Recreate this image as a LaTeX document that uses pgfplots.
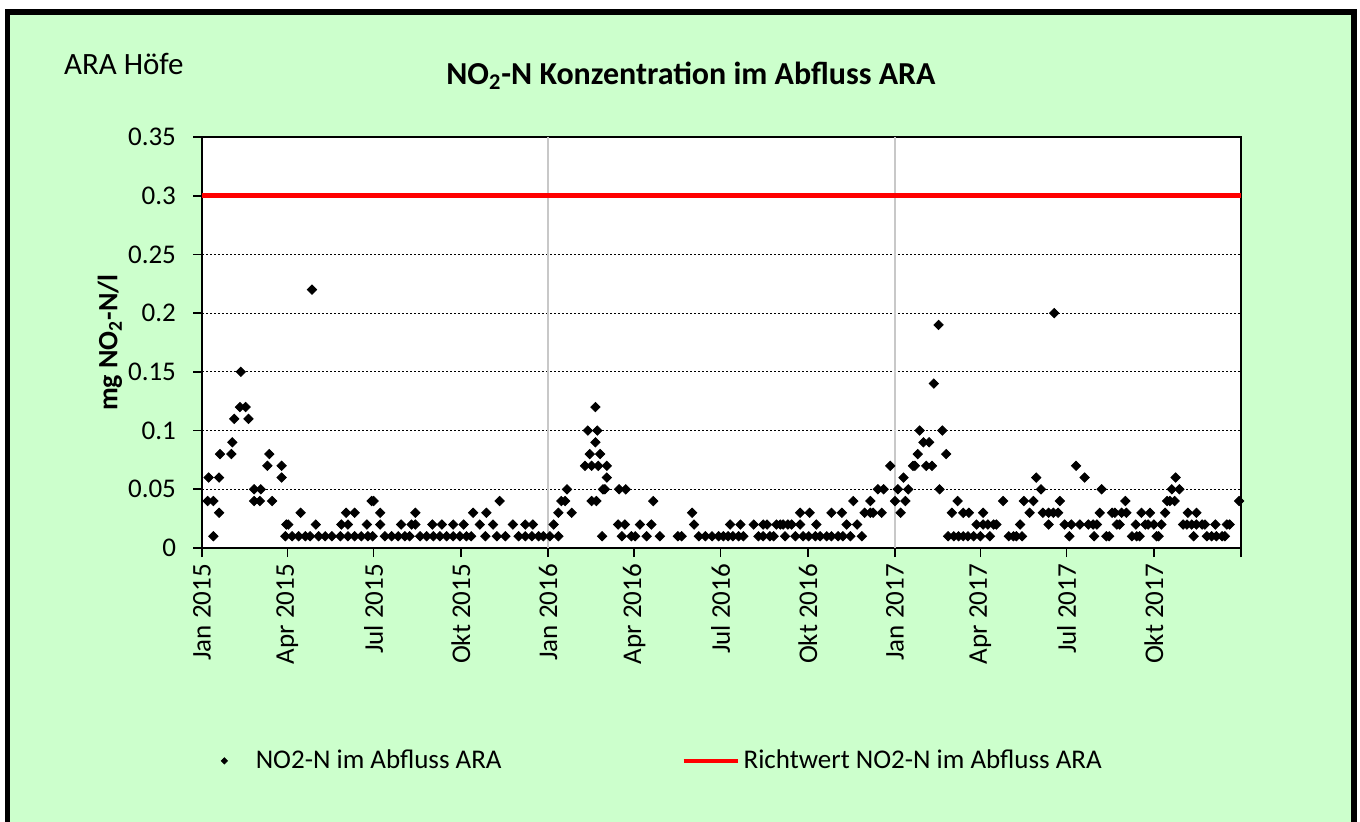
\documentclass[border=0pt]{standalone}
\usepackage{fontspec}
\setmainfont{Carlito}
\usepackage{pgfplots}
\pgfplotsset{compat=1.18}
\usepackage{pgfplotstable}
\definecolor{bggreen}{RGB}{204,255,204}
\definecolor{gridgray}{RGB}{200,200,200}

\pgfplotsset{
  dotlegend/.style={legend image code/.code={\path (0pt,0pt) (27pt,0pt);\draw[mark repeat=2,mark phase=2,##1,mark size=1.1pt] plot coordinates {(0pt,0pt)(13.5pt,0pt)(27pt,0pt)};}},
  linelegend/.style={legend image code/.code={\draw[##1, line width=2pt] (0pt,0pt) -- (27pt,0pt);}},
}

\pgfplotstableread{
day val
6 0.04
7 0.06
12 0.04
12 0.01
18 0.06
18 0.03
19 0.08
31 0.08
32 0.09
34 0.11
40 0.12
41 0.15
46 0.12
49 0.11
55 0.05
55 0.04
61 0.04
62 0.05
69 0.07
71 0.08
74 0.04
84 0.07
84 0.06
88 0.01
89 0.02
91 0.02
95 0.01
102 0.01
104 0.03
109 0.01
114 0.01
116 0.22
120 0.02
123 0.01
130 0.01
137 0.01
146 0.01
147 0.02
152 0.03
154 0.01
154 0.02
161 0.01
161 0.03
168 0.01
174 0.02
175 0.01
179 0.04
180 0.01
181 0.04
188 0.03
188 0.02
193 0.01
200 0.01
207 0.01
210 0.02
214 0.01
219 0.01
221 0.02
225 0.02
225 0.03
230 0.01
237 0.01
243 0.02
244 0.01
251 0.01
253 0.02
258 0.01
265 0.01
265 0.02
272 0.01
276 0.02
279 0.01
284 0.01
286 0.03
293 0.02
299 0.01
300 0.03
307 0.02
311 0.01
314 0.04
320 0.01
328 0.02
334 0.01
341 0.01
341 0.02
348 0.01
349 0.02
355 0.01
360 0.01
367 0.01
371 0.02
376 0.01
376 0.03
379 0.04
383 0.04
385 0.05
390 0.03
404 0.07
407 0.10
409 0.08
411 0.07
411 0.04
415 0.09
415 0.12
416 0.04
417 0.10
418 0.07
420 0.08
422 0.01
423 0.05
425 0.05
427 0.07
427 0.06
439 0.02
440 0.05
443 0.01
446 0.02
447 0.05
453 0.01
457 0.01
462 0.02
469 0.01
474 0.02
476 0.04
483 0.01
502 0.01
506 0.01
517 0.03
519 0.02
524 0.01
531 0.01
538 0.01
545 0.01
550 0.01
555 0.01
557 0.02
560 0.01
566 0.01
568 0.02
571 0.01
582 0.02
587 0.01
592 0.01
592 0.02
596 0.02
599 0.01
603 0.01
606 0.02
610 0.02
613 0.02
615 0.01
618 0.02
622 0.02
626 0.01
631 0.03
631 0.02
634 0.01
640 0.01
641 0.03
647 0.01
648 0.02
652 0.01
659 0.01
664 0.01
664 0.03
671 0.01
675 0.03
676 0.01
680 0.02
684 0.01
687 0.04
691 0.02
696 0.01
699 0.03
705 0.03
705 0.04
708 0.03
713 0.05
717 0.03
719 0.05
726 0.07
731 0.04
734 0.05
737 0.03
740 0.06
742 0.04
745 0.05
750 0.07
752 0.07
755 0.08
757 0.10
761 0.09
764 0.07
767 0.09
770 0.07
772 0.14
777 0.19
778 0.05
781 0.10
785 0.08
787 0.01
791 0.03
793 0.01
797 0.04
798 0.01
803 0.01
803 0.03
808 0.01
809 0.03
814 0.01
817 0.02
821 0.01
824 0.02
824 0.03
829 0.02
831 0.01
835 0.02
838 0.02
845 0.04
851 0.01
856 0.01
859 0.01
863 0.02
865 0.01
867 0.04
873 0.03
877 0.04
880 0.06
885 0.05
887 0.03
893 0.03
893 0.02
898 0.03
899 0.20
903 0.03
905 0.04
910 0.02
915 0.01
917 0.02
922 0.07
926 0.02
931 0.06
935 0.02
940 0.02
941 0.01
944 0.02
947 0.03
949 0.05
954 0.01
957 0.01
960 0.03
963 0.03
965 0.02
968 0.02
970 0.03
974 0.04
975 0.03
981 0.01
985 0.02
986 0.01
989 0.01
991 0.03
995 0.02
998 0.02
1000 0.03
1004 0.02
1007 0.01
1009 0.01
1012 0.02
1016 0.03
1018 0.04
1021 0.04
1023 0.05
1026 0.04
1027 0.06
1031 0.05
1035 0.02
1039 0.02
1040 0.03
1044 0.02
1046 0.01
1049 0.02
1049 0.03
1055 0.02
1058 0.02
1060 0.01
1065 0.01
1069 0.02
1070 0.01
1076 0.01
1079 0.01
1081 0.02
1084 0.02
1094 0.04
}\nodata

\pgfplotstableread{
day val
0 0.3
1096 0.3
}\richtwert

\begin{document}
\begin{tikzpicture}
\useasboundingbox (0pt,0pt) rectangle (680pt,410.5pt);
\begin{scope}[x=0.5pt,y=0.5pt]
\clip (0,0) rectangle (1360,821);
\fill[white] (0,0) rectangle (1360,821);
\fill[bggreen] (7.5,-20) rectangle (1354,809);
\draw[black, line width=2.75pt] (7.5,-20) rectangle (1354,809);
\end{scope}
\node[anchor=base west, font=\fontsize{15.5}{18}\selectfont] at (28.5pt,373pt) {ARA Höfe};
\begin{axis}[
  at={(101pt,136.5pt)}, anchor=south west,
  scale only axis, width=519.5pt, height=205.5pt,
  xmin=0, xmax=1096, ymin=0, ymax=0.35,
  axis background/.style={fill=white},
  axis line style={black, line width=0.9pt},
  xtick={0,90,181,273,365,456,547,639,731,821,912,1004,1096},
  xticklabels={Jan 2015,Apr 2015,Jul 2015,Okt 2015,Jan 2016,Apr 2016,Jul 2016,Okt 2016,Jan 2017,Apr 2017,Jul 2017,Okt 2017,{}},
  ytick={0,0.05,0.1,0.15,0.2,0.25,0.3,0.35},
  yticklabels={0,0.05,0.1,0.15,0.2,0.25,0.3,0.35},
  /pgf/number format/assume math mode=true,
  tick label style={font=\fontsize{13.5}{16}\selectfont},
  xticklabel style={rotate=90, anchor=east},
  yticklabel style={xshift=-5pt},
  tick align=outside, major tick length=4.5pt,
  tick style={black, line width=0.8pt},
  xtick pos=lower, ytick pos=left,
  ymajorgrids,
  major y grid style={black, dash pattern=on 1.2pt off 0.8pt, line width=0.5pt},
  extra x ticks={365,731},
  extra x tick labels={},
  extra x tick style={xmajorgrids=true, major x grid style={solid, gridgray, line width=0.9pt}, major tick length=0pt},
  ylabel={mg NO\textsubscript{2}-N/l},
  every axis y label/.style={at={(axis description cs:-0.0885,0.5)}, rotate=90, anchor=center, font=\bfseries\fontsize{14}{17}\selectfont},
  title={NO\textsubscript{2}-N Konzentration im Abfluss ARA},
  title style={at={(axis description cs:0.4706,1.119)}, anchor=center, font=\bfseries\fontsize{16}{19}\selectfont},
  legend columns=2,
  legend cell align=left,
  legend style={draw=none, fill=none, at={(axis description cs:-0.011,-0.518)}, anchor=west,
    font=\fontsize{13.5}{16}\selectfont,
    /tikz/every even column/.append style={column sep=88pt}},
]
\addplot[only marks, mark=square*, mark size=1.65pt, mark options={rotate=45, fill=black, draw=black}, dotlegend]
  table[x=day,y=val]{\nodata};
\addlegendentry{NO2-N im Abfluss ARA}
\addplot[red, line width=2.5pt, no marks, linelegend]
  table[x=day,y=val]{\richtwert};
\addlegendentry{Richtwert NO2-N im Abfluss ARA}
\end{axis}
\end{tikzpicture}
\end{document}
